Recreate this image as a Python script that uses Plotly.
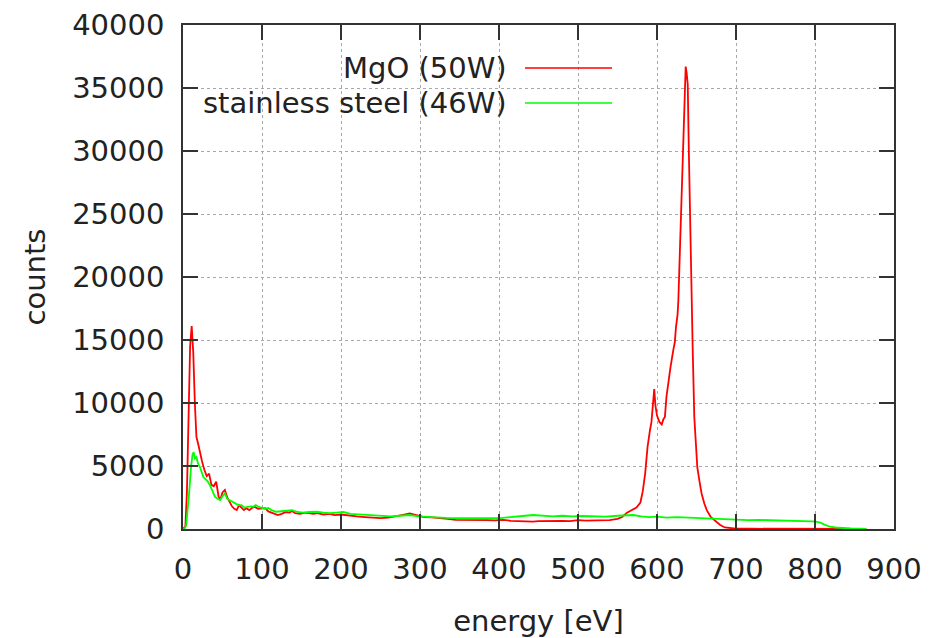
import plotly.graph_objects as go

# MgO (50W) spectrum
mgo_energy = [0, 3, 5, 7, 9, 11, 13, 15, 17, 19, 21, 24, 27, 30, 33, 36, 39, 42, 45, 47,
              50, 53, 56, 59, 62, 65, 68, 71, 74, 77, 80, 84, 88, 91, 95, 100, 104, 108,
              112, 116, 120, 125, 130, 135, 138, 142, 148, 155, 160, 165, 170, 178, 185,
              192, 200, 210, 220, 230, 240, 250, 260, 270, 280, 287, 295, 305, 315, 325,
              335, 345, 355, 365, 375, 385, 395, 405, 415, 425, 435, 443, 450, 460, 470,
              480, 490, 500, 510, 520, 530, 540, 550, 556, 562, 568, 574, 579, 582, 585,
              588, 591, 593, 595, 596.5, 598, 600, 603, 606, 608, 610, 612, 614, 617,
              620.6, 622.5, 624, 626, 627, 629, 631.6, 633, 635, 636.3, 637.5, 638.9,
              640.3, 641.8, 643.5, 645.2, 647.2, 649, 651, 654, 656.5, 660, 663, 668,
              673, 680, 686, 692, 700, 720, 750, 780, 810, 840, 865]
mgo_counts = [0, 200, 3000, 9000, 14500, 16100, 14000, 10000, 7300, 6800, 6200, 5400, 4700,
              4200, 4400, 3500, 3400, 3750, 2600, 2300, 2900, 3100, 2500, 2100, 1800, 1600,
              1500, 1900, 1700, 1500, 1650, 1500, 1700, 1750, 1600, 1650, 1650, 1400, 1300,
              1250, 1100, 1200, 1350, 1300, 1420, 1250, 1200, 1300, 1250, 1200, 1270, 1150,
              1200, 1100, 1150, 1050, 1000, 950, 900, 870, 900, 1000, 1150, 1240, 1100, 950,
              920, 880, 800, 720, 700, 680, 720, 700, 690, 720, 650, 620, 600, 580, 620, 640,
              600, 650, 630, 700, 660, 680, 700, 700, 800, 950, 1300, 1500, 1700, 2100, 3000,
              4400, 6500, 7800, 8500, 10000, 11100, 9800, 9000, 8500, 8300, 8700, 8900,
              10500, 11500, 12800, 14200, 14800, 16000, 17000, 18100, 22100, 27400, 31400,
              35300, 36700, 36200, 35300, 30000, 24700, 19000, 14200, 8900, 6500, 4900,
              3700, 2800, 2000, 1500, 950, 700, 320, 120, 60, 30, 20, 15, 10, 10, 5, 0]

# stainless steel (46W) spectrum
ss_energy = [0, 2, 4, 6, 8, 10, 12, 13.5, 15, 17, 19, 21.5, 24, 26, 28, 31, 34, 37, 40.5,
             44, 47, 50, 53, 56, 59, 62, 66, 70, 74, 78, 82, 86, 89, 92, 96, 100, 104, 108,
             112, 118, 125, 132, 138, 145, 152, 160, 169, 178, 186, 195, 203, 212, 222,
             232, 243, 253, 263, 275, 287, 298, 310, 321, 333, 346, 360, 375, 390, 401,
             412, 423, 433, 443, 455, 468, 480, 493, 506, 520, 535, 550, 560, 570, 580,
             590, 600, 612, 625, 640, 654, 668, 680, 692, 700, 715, 730, 745, 756, 770,
             785, 796, 801, 807, 812, 819, 826, 832, 845, 855, 865]
ss_counts = [0, 0, 300, 1500, 3000, 4800, 5900, 6100, 5600, 5700, 5200, 4900, 4500, 4100,
             4000, 3800, 3500, 3000, 2550, 2400, 2300, 2600, 2830, 2400, 2300, 2160, 2000,
             1900, 1900, 1700, 1750, 1800, 1770, 1900, 1750, 1700, 1600, 1660, 1500, 1370,
             1400, 1450, 1500, 1350, 1300, 1350, 1370, 1300, 1250, 1300, 1350, 1200, 1150,
             1100, 1050, 1030, 1000, 1050, 1110, 1000, 950, 900, 880, 870, 850, 880, 860,
             870, 950, 1000, 1050, 1110, 1050, 1000, 1050, 1000, 1030, 1000, 980, 1050,
             1100, 1110, 1000, 950, 975, 900, 950, 900, 850, 800, 780, 750, 710, 700, 720,
             700, 710, 680, 620, 600, 580, 500, 350, 180, 120, 80, 40, 20, 0]

series_names = ["MgO (50W)", "stainless steel (46W)"]
series_colors = ["#ff0000", "#00ff00"]

x_ticks = [0, 100, 200, 300, 400, 500, 600, 700, 800, 900]
y_ticks = [0, 5000, 10000, 15000, 20000, 25000, 30000, 35000, 40000]

FONT = "DejaVu Sans"
FS = 29

fig = go.Figure()
fig.add_trace(go.Scatter(x=mgo_energy, y=mgo_counts, mode="lines", name=series_names[0],
                         line=dict(color=series_colors[0], width=1.8)))
fig.add_trace(go.Scatter(x=ss_energy, y=ss_counts, mode="lines", name=series_names[1],
                         line=dict(color=series_colors[1], width=1.8)))

axis_common = dict(
    showline=True, linecolor="#333333", linewidth=1.5, mirror="ticks",
    ticks="inside", ticklen=15, tickwidth=1.5, tickcolor="#333333",
    showgrid=True, gridcolor="#a8a8a8", gridwidth=1, griddash="dot",
    zeroline=False, automargin=False,
    tickfont=dict(family=FONT, size=FS, color="#222222"),
)

fig.update_layout(
    width=931, height=638,
    margin=dict(l=183, r=37, t=25, b=109),
    paper_bgcolor="white", plot_bgcolor="white",
    showlegend=False,
    font=dict(family=FONT, size=FS, color="#222222"),
    xaxis=dict(range=[0, 900], tickmode="array", tickvals=x_ticks,
               ticktext=[str(v) for v in x_ticks], ticklabelstandoff=13,
               title=dict(text="energy [eV]", standoff=28, font=dict(family=FONT, size=FS)),
               **axis_common),
    yaxis=dict(range=[0, 40000], tickmode="array", tickvals=y_ticks,
               ticktext=[str(v) for v in y_ticks], ticklabelstandoff=11,
               title=dict(text="counts", standoff=18, font=dict(family=FONT, size=FS)),
               **axis_common),
)

# legend box (white background hides grid), text right-aligned with line sample on the right
fig.add_shape(type="rect", xref="paper", yref="paper", x0=0.017, x1=0.626, y0=0.8075, y1=0.95,
              fillcolor="white", line=dict(width=0), layer="between")
legend_y = [0.9147, 0.8452]
for name, color, ly in zip(series_names, series_colors, legend_y):
    fig.add_annotation(x=0.4585, y=ly, xref="paper", yref="paper", text=name,
                       showarrow=False, xanchor="right", yanchor="middle",
                       font=dict(family=FONT, size=FS, color="#222222"))
    fig.add_shape(type="line", xref="paper", yref="paper", x0=0.481, x1=0.6034, y0=ly, y1=ly,
                  line=dict(color=color, width=1.5))

fig.write_html("out.html", config={"displayModeBar": False},
               post_script="document.body.style.margin='0';document.body.style.padding='0';")
